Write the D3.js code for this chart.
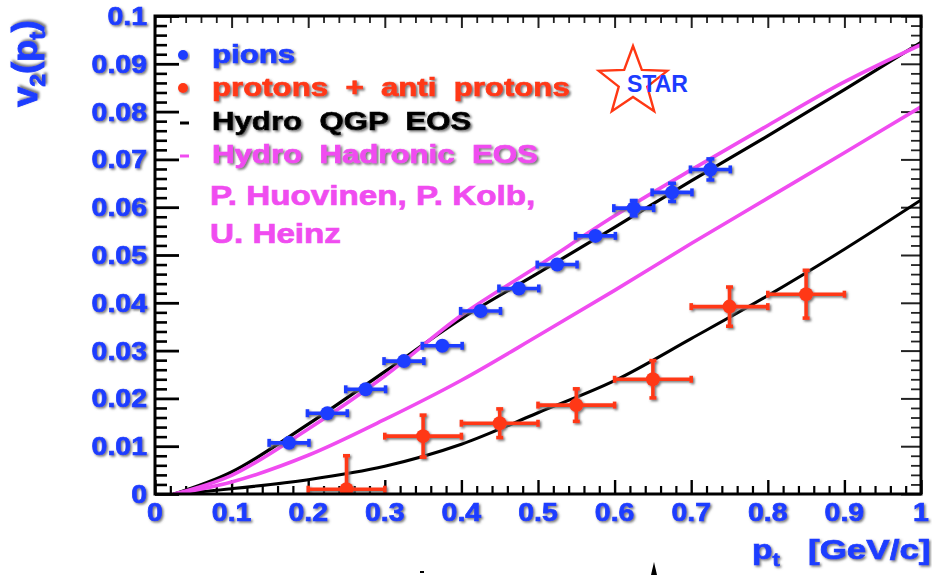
<!DOCTYPE html>
<html>
<head>
<meta charset="utf-8">
<script src="https://cdn.jsdelivr.net/npm/d3@7"></script>
<style>
  html, body { margin: 0; padding: 0; background: #fff; }
  svg { display: block; font-family: "Liberation Sans", Arial, Helvetica, sans-serif; font-weight: bold; }
  .heavy { stroke-width: 0.7px; paint-order: stroke; }
</style>
</head>
<body>
<svg id="chart" width="932" height="575"></svg>
<script>
// ---- hydro calculations (v2 vs pt) ----
const ptGrid         = [0.025, 0.1, 0.2, 0.3, 0.4, 0.5, 0.6, 0.7, 0.8, 0.9, 1.0];
const pionQGP        = [0, 0.0046, 0.0146, 0.0256, 0.0367, 0.0462, 0.0558, 0.0655, 0.0749, 0.0846, 0.0945];
const pionHadronic   = [0, 0.0039, 0.0136, 0.0247, 0.0374, 0.0477, 0.0582, 0.0678, 0.0771, 0.0862, 0.0940];
const protonQGP      = [0, 0.0011, 0.0030, 0.0058, 0.0104, 0.0170, 0.0237, 0.0325, 0.0415, 0.0512, 0.0615];
const protonHadronic = [0, 0.0025, 0.0081, 0.0156, 0.0238, 0.0331, 0.0426, 0.0524, 0.0619, 0.0714, 0.0810];

// ---- STAR measurements ----
const pionPt     = [0.175, 0.225, 0.275, 0.325, 0.375, 0.425, 0.475, 0.525, 0.575, 0.625, 0.675, 0.725];
const pionV2     = [0.0107, 0.0169, 0.0219, 0.0278, 0.0310, 0.0383, 0.0430, 0.0480, 0.0540, 0.0598, 0.0631, 0.0679];
const pionPtErr  = [0.026, 0.026, 0.026, 0.026, 0.026, 0.026, 0.026, 0.026, 0.026, 0.026, 0.026, 0.026];
const pionV2Err  = [0.0005, 0.0005, 0.0006, 0.0007, 0.0008, 0.0009, 0.0010, 0.0011, 0.0013, 0.0016, 0.0019, 0.0022];

const protonPt    = [0.25, 0.35, 0.45, 0.55, 0.65, 0.75, 0.85];
const protonV2    = [0.0010, 0.0121, 0.0148, 0.0186, 0.0240, 0.0392, 0.0418];
const protonPtErr = [0.05, 0.05, 0.05, 0.05, 0.05, 0.05, 0.05];
const protonV2Err = [0.0070, 0.0044, 0.0030, 0.0034, 0.0039, 0.0041, 0.0050];

// ---- axis ticks and labels ----
const xTickValues = [0, 0.1, 0.2, 0.3, 0.4, 0.5, 0.6, 0.7, 0.8, 0.9, 1];
const xTickLabels = ["0", "0.1", "0.2", "0.3", "0.4", "0.5", "0.6", "0.7", "0.8", "0.9", "1"];
const yTickValues = [0, 0.01, 0.02, 0.03, 0.04, 0.05, 0.06, 0.07, 0.08, 0.09, 0.1];
const yTickLabels = ["0", "0.01", "0.02", "0.03", "0.04", "0.05", "0.06", "0.07", "0.08", "0.09", "0.1"];
const xMinorStep = 0.02;
const yMinorStep = 0.002;

// ---- legend ----
const legendLabels = ["pions", "protons  +  anti  protons", "Hydro  QGP  EOS", "Hydro  Hadronic  EOS"];
const legendKinds  = ["dot", "dot", "dash", "dash"];
const creditLines  = ["P. Huovinen, P. Kolb,", "U. Heinz"];

const BLUE = "#1c3cff", RED = "#ff3814", MAGENTA = "#f04cf0", BLACK = "#000";
const legendColors = [BLUE, RED, BLACK, MAGENTA];

const svg = d3.select("#chart");
const W = 932, H = 575;
const plot = { left: 155, right: 921, top: 16, bottom: 494 };

const defs = svg.append("defs");
const sh = defs.append("filter").attr("id", "shadow")
  .attr("x", "-10%").attr("y", "-10%").attr("width", "130%").attr("height", "140%");
sh.append("feDropShadow").attr("dx", 1.5).attr("dy", 1.5).attr("stdDeviation", 0.8)
  .attr("flood-color", "#707070").attr("flood-opacity", 0.95);
defs.append("clipPath").attr("id", "plotClip").append("rect")
  .attr("x", plot.left).attr("y", plot.top)
  .attr("width", plot.right - plot.left).attr("height", plot.bottom - plot.top);

const x = d3.scaleLinear().domain([0, 1]).range([plot.left, plot.right]);
const y = d3.scaleLinear().domain([0, 0.1]).range([plot.bottom, plot.top]);

svg.append("rect").attr("width", W).attr("height", H).attr("fill", "#fff");

// ---- minor + major ticks on all four sides ----
const xMinor = d3.range(0, 1 + 1e-9, xMinorStep).filter(v => Math.abs(v * 10 - Math.round(v * 10)) > 1e-6);
const yMinor = d3.range(0, 0.1 + 1e-9, yMinorStep).filter(v => Math.abs(v * 100 - Math.round(v * 100)) > 1e-6);

function tickLayer(axis, tx, ty, color, width) {
  const g = svg.append("g").attr("transform", `translate(${tx},${ty})`).call(axis);
  g.select(".domain").remove();
  g.selectAll("text").remove();
  g.selectAll("line").attr("stroke", color).attr("stroke-width", width);
  return g;
}
// bottom
tickLayer(d3.axisBottom(x).tickValues(xMinor).tickSize(-8).tickFormat(""), 0, plot.bottom, BLACK, 2.2);
tickLayer(d3.axisBottom(x).tickValues(xTickValues).tickSize(-14).tickFormat(""), 0, plot.bottom, BLACK, 2.4);
// top
tickLayer(d3.axisTop(x).tickValues(xMinor).tickSize(-7).tickFormat(""), 0, plot.top, "#222", 1.8);
tickLayer(d3.axisTop(x).tickValues(xTickValues).tickSize(-12).tickFormat(""), 0, plot.top, "#222", 2);
// left
tickLayer(d3.axisLeft(y).tickValues(yMinor).tickSize(-12).tickFormat(""), plot.left, 0, BLACK, 2.6);
tickLayer(d3.axisLeft(y).tickValues(yTickValues).tickSize(-24).tickFormat(""), plot.left, 0, BLACK, 2.8);
// right
tickLayer(d3.axisRight(y).tickValues(yMinor).tickSize(-10).tickFormat(""), plot.right, 0, "#222", 1.8);
tickLayer(d3.axisRight(y).tickValues(yTickValues).tickSize(-20).tickFormat(""), plot.right, 0, "#222", 2);

// ---- tick labels ----
const labelFont = 25, stretch = 1.14;
const xl = svg.append("g").attr("filter", "url(#shadow)");
xTickValues.forEach((v, i) => {
  xl.append("text").attr("class", "heavy")
    .attr("transform", `translate(${x(v)},${plot.bottom + 27}) scale(${stretch},1)`)
    .attr("text-anchor", "middle").attr("font-size", labelFont).attr("fill", BLUE).attr("stroke", BLUE)
    .text(xTickLabels[i]);
});
const yl = svg.append("g").attr("filter", "url(#shadow)");
yTickValues.forEach((v, i) => {
  yl.append("text").attr("class", "heavy")
    .attr("transform", `translate(${plot.left - 8},${y(v) + 9}) scale(${stretch},1)`)
    .attr("text-anchor", "end").attr("font-size", labelFont).attr("fill", BLUE).attr("stroke", BLUE)
    .text(yTickLabels[i]);
});

// ---- hydro curves ----
const line = d3.line().x(d => x(d[0])).y(d => y(d[1])).curve(d3.curveCatmullRom.alpha(0.5));
const curves = svg.append("g").attr("clip-path", "url(#plotClip)").attr("fill", "none");
[[protonQGP, BLACK, 3], [pionQGP, BLACK, 3.2], [protonHadronic, MAGENTA, 3.6], [pionHadronic, MAGENTA, 3.6]]
  .forEach(([vals, col, w]) => {
    curves.append("path").attr("d", line(ptGrid.map((p, i) => [p, vals[i]])))
      .attr("stroke", col).attr("stroke-width", w).attr("stroke-linecap", "round");
  });

// ---- data points with error bars ----
function drawSeries(pts, v2s, ex, ey, color, r, capHalf) {
  const g = svg.append("g").attr("clip-path", "url(#plotClip)");
  const inner = g.append("g").attr("filter", "url(#shadow)");
  pts.forEach((p, i) => {
    const cx = x(p), cy = y(v2s[i]);
    const x0 = x(p - ex[i]), x1 = x(p + ex[i]);
    const y0 = y(v2s[i] - ey[i]), y1 = y(v2s[i] + ey[i]);
    const s = inner.append("g").attr("stroke", color).attr("stroke-width", 3.6);
    s.append("line").attr("x1", x0).attr("x2", x1).attr("y1", cy).attr("y2", cy);
    s.append("line").attr("x1", x0).attr("x2", x0).attr("y1", cy - capHalf).attr("y2", cy + capHalf);
    s.append("line").attr("x1", x1).attr("x2", x1).attr("y1", cy - capHalf).attr("y2", cy + capHalf);
    if (Math.abs(y0 - y1) > 2 * r) {
      s.append("line").attr("x1", cx).attr("x2", cx).attr("y1", y0).attr("y2", y1);
      s.append("line").attr("x1", cx - capHalf).attr("x2", cx + capHalf).attr("y1", y0).attr("y2", y0);
      s.append("line").attr("x1", cx - capHalf).attr("x2", cx + capHalf).attr("y1", y1).attr("y2", y1);
    }
    inner.append("circle").attr("cx", cx).attr("cy", cy).attr("r", r).attr("fill", color);
  });
}
drawSeries(pionPt, pionV2, pionPtErr, pionV2Err, BLUE, 7, 4);
drawSeries(protonPt, protonV2, protonPtErr, protonV2Err, RED, 7, 3.5);

// ---- frame ----
svg.append("rect").attr("x", plot.left).attr("y", plot.top)
  .attr("width", plot.right - plot.left).attr("height", plot.bottom - plot.top)
  .attr("fill", "none").attr("stroke", BLACK).attr("stroke-width", 3);

// ---- legend ----
const leg = svg.append("g");
const legBase = [63, 96, 130, 163];
legendLabels.forEach((lab, i) => {
  const c = legendColors[i];
  if (legendKinds[i] === "dot") {
    leg.append("circle").attr("cx", 183).attr("cy", legBase[i] - 8).attr("r", 5).attr("fill", c)
      .attr("filter", "url(#shadow)");
  } else {
    leg.append("line").attr("x1", 180).attr("x2", 189).attr("y1", legBase[i] - 7).attr("y2", legBase[i] - 7)
      .attr("stroke", c).attr("stroke-width", 3);
  }
  leg.append("text").attr("class", "heavy").attr("transform", `translate(212,${legBase[i]}) scale(1.2,1)`)
    .attr("font-size", 26).attr("fill", c).attr("stroke", c).attr("filter", "url(#shadow)")
    .style("white-space", "pre").text(lab);
});
const creditBase = [205, 243];
creditLines.forEach((t, i) => {
  leg.append("text").attr("class", "heavy").attr("transform", `translate(210,${creditBase[i]}) scale(1.23,1)`)
    .attr("font-size", 27).attr("fill", MAGENTA).attr("stroke", MAGENTA).style("white-space", "pre").text(t);
});

// ---- STAR logo ----
const starC = [633, 82], R = 36, rIn = 15;
const starPts = d3.range(10).map(k => {
  const a = -Math.PI / 2 + k * Math.PI / 5;
  const rr = k % 2 === 0 ? R : rIn;
  return [starC[0] + rr * Math.cos(a), starC[1] + rr * Math.sin(a)];
});
svg.append("path").attr("d", d3.line()(starPts) + "Z")
  .attr("fill", "#fff").attr("stroke", RED).attr("stroke-width", 2.4).attr("stroke-linejoin", "miter");
svg.append("text").attr("x", 627).attr("y", 92).attr("font-size", 24).attr("fill", BLUE)
  .attr("textLength", 61).attr("lengthAdjust", "spacingAndGlyphs").text("STAR");

// ---- axis titles ----
const yt = svg.append("text").attr("class", "heavy").attr("font-size", 30).attr("fill", BLUE)
  .attr("stroke", BLUE).attr("filter", "url(#shadow)");
yt.append("tspan").text("v");
yt.append("tspan").attr("font-size", 19).attr("dy", 7).text("2");
yt.append("tspan").attr("dy", -7).text("(p");
yt.append("tspan").attr("font-size", 19).attr("dy", 7).text("t");
yt.append("tspan").attr("dy", -7).text(")");
const ytLen = yt.node().getComputedTextLength();
yt.attr("transform", `translate(37,107) rotate(-90) scale(${87 / ytLen},1.2)`);

const xt = svg.append("g").attr("filter", "url(#shadow)");
const xp = xt.append("text").attr("class", "heavy").attr("transform", "translate(752,559) scale(1.2,1)")
  .attr("font-size", 28).attr("fill", BLUE).attr("stroke", BLUE);
xp.append("tspan").text("p");
xp.append("tspan").attr("font-size", 18).attr("dy", 7).text("t");
xt.append("text").attr("class", "heavy").attr("transform", "translate(808,559) scale(1.25,1)")
  .attr("font-size", 28).attr("fill", BLUE).attr("stroke", BLUE).text("[GeV/c]");

// ---- small marks along the lower edge ----
svg.append("rect").attr("x", 420).attr("y", 571).attr("width", 4).attr("height", 2).attr("fill", BLACK);
svg.append("path").attr("d", "M654,562 L651,575 L657,575 Z").attr("fill", BLACK);
</script>
</body>
</html>
